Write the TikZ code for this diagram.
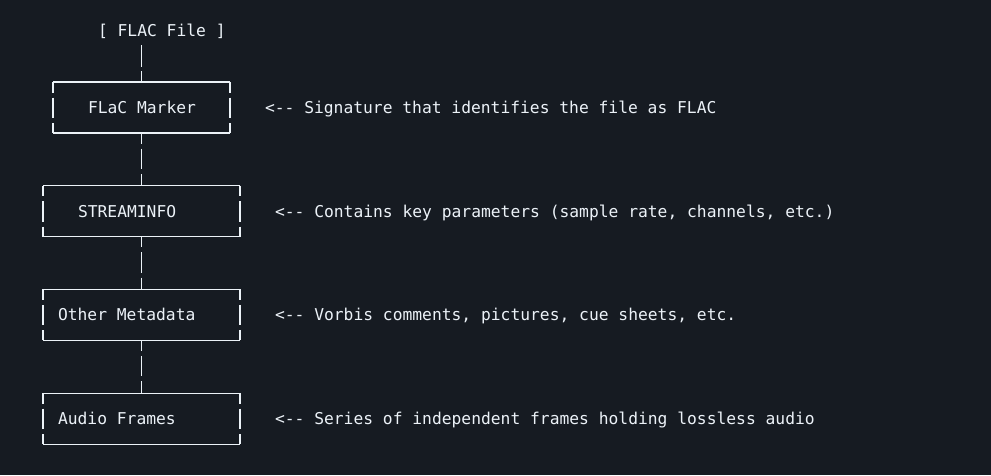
\documentclass[tikz,border=0pt]{standalone}
\usepackage{fontspec}
\setmonofont{DejaVu Sans Mono}
\usetikzlibrary{positioning}
\definecolor{termbg}{RGB}{22,27,34}
\definecolor{termfg}{RGB}{236,242,248}

\begin{document}
\begin{tikzpicture}[x=1pt,y=-1pt,line width=1.2pt,
        every node/.style={inner sep=0pt, outer sep=0pt, text=termfg, text height=12pt, text depth=0pt,
        font=\ttfamily\fontsize{16.3}{19}\selectfont},
        hline/.style={draw=termfg},
        vline/.style={draw=termfg, dash pattern=on 20.5pt off 5pt, dash phase=10pt},
        block/.style={minimum width=#1, minimum height=51pt,
        append after command={
        (\tikzlastnode.north west) edge[hline] (\tikzlastnode.north east)
        (\tikzlastnode.south west) edge[hline] (\tikzlastnode.south east)
        (\tikzlastnode.north west) edge[vline] (\tikzlastnode.south west)
        (\tikzlastnode.north east) edge[vline] (\tikzlastnode.south east)}},
        note/.style={anchor=west}
        ]

        \fill[termbg] (0,0) rectangle (991,475);
        \useasboundingbox (0,0) rectangle (991,475);

        \node [note] (title) at (98,30.5) {[ FLAC File ]} ;
        \node [block=177pt] (marker) at (141.5,107.5) {} ;
        \node [block=197pt] (streaminfo) [below = 52.7pt of marker] {} ;
        \node [block=197pt] (othermeta) [below = 52.7pt of streaminfo] {} ;
        \node [block=197pt] (audioframes) [below = 52.7pt of othermeta] {} ;

        \node [note, right = 35pt of marker.west] (markername) {FLaC Marker} ;
        \node [note, right = 35pt of streaminfo.west] (streaminfoname) {STREAMINFO} ;
        \node [note, right = 15pt of othermeta.west] (othermetaname) {Other Metadata} ;
        \node [note, right = 15pt of audioframes.west] (audioframesname) {Audio Frames} ;

        \node [note, right = 35pt of marker.east] (markernote) {<-- Signature that identifies the file as FLAC} ;
        \node [note, right = 35pt of streaminfo.east] (streaminfonote) {<-- Contains key parameters (sample rate, channels, etc.)} ;
        \node [note, right = 35pt of othermeta.east] (othermetanote) {<-- Vorbis comments, pictures, cue sheets, etc.} ;
        \node [note, right = 35pt of audioframes.east] (audioframesnote) {<-- Series of independent frames holding lossless audio} ;

        \draw [vline, dash pattern=on 22pt off 4pt, dash phase=0pt, shorten <=8.5pt]
        (marker.north |- title.south) -- (marker.north) ;
        \path[vline]
        (marker) edge (streaminfo)
        (streaminfo) edge (othermeta)
        (othermeta) edge (audioframes)
        ;
     \end{tikzpicture}
\end{document}
